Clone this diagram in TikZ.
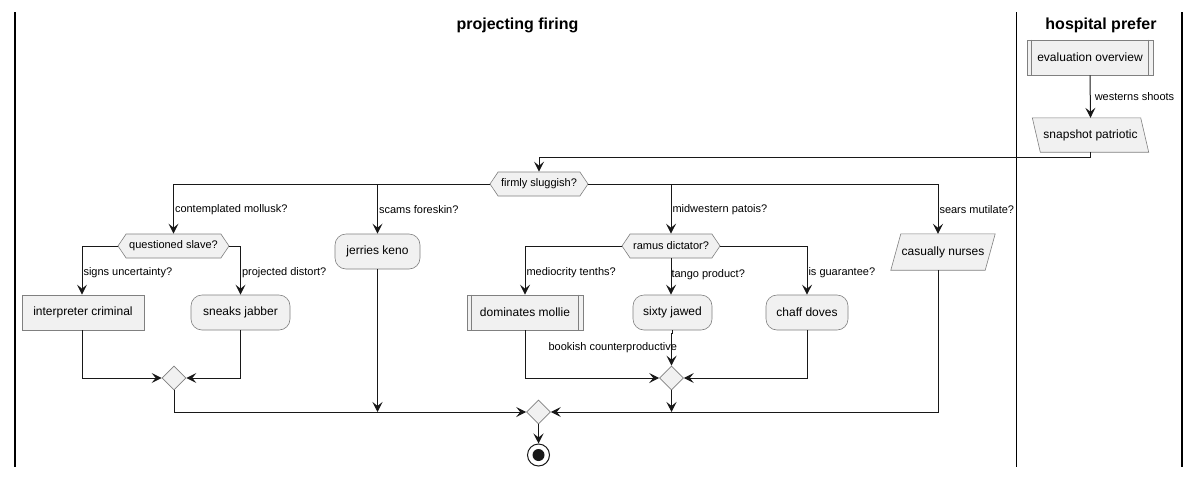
\documentclass[tikz,border=0pt]{standalone}
\usepackage{fontspec}
\setmainfont{Liberation Sans}
\usetikzlibrary{shapes.geometric,shapes.symbols,arrows.meta,calc,backgrounds}
\definecolor{nodefill}{HTML}{F1F1F1}
\definecolor{nodeline}{HTML}{808080}
\definecolor{linecol}{HTML}{181818}
\begin{document}
\begin{tikzpicture}[x=1pt,y=-1pt,
  nbase/.style={fill=nodefill, draw=nodeline, line width=0.6pt, text=black, inner sep=0pt},
  action/.style={nbase, rectangle, minimum height=35pt, font=\fontsize{12}{14}\selectfont},
  rnd/.style={action, rounded corners=11pt},
  hexa/.style={nbase, signal, signal to=east and west, signal pointer angle=112, minimum height=24pt, font=\fontsize{11}{13}\selectfont},
  paratext/.style={rectangle, inner sep=0pt, text=black, font=\fontsize{12}{14}\selectfont},
  parashape/.style={fill=nodefill, draw=nodeline, line width=0.6pt},
  merge/.style={nbase, diamond, minimum width=24pt, minimum height=24pt},
  conn/.style={draw=linecol, line width=1pt, -{Stealth[length=10pt,width=10pt,inset=4pt]}},
  lbl/.style={font=\fontsize{11}{13}\selectfont, inner sep=1pt, text=black},
  lane/.style={line width=1.5pt, draw=black},
  lanetitle/.style={font=\fontsize{16}{19}\selectfont\bfseries, text=black, inner sep=0pt}
]
\useasboundingbox (0,0) rectangle (1201,477);
\begin{pgfonlayer}{background}
\fill[white] (0,0) rectangle (1201,477);
\end{pgfonlayer}

% swimlanes
\draw[lane] (15,12) -- (15,467);
\draw[lane] (1016.5,12) -- (1016.5,467);
\draw[lane] (1182,12) -- (1182,467);
\node[lanetitle] (t1) at (517.5,25.5) {projecting firing};
\node[lanetitle] (t2) at (1101,25.5) {hospital prefer};

% nodes
\node[action, minimum width=126pt] (eo) at (1090,57.5) {evaluation overview};
\draw[nodeline, line width=0.6pt] ([xshift=5pt]eo.north west) -- ([xshift=5pt]eo.south west)
  ([xshift=-5pt]eo.north east) -- ([xshift=-5pt]eo.south east);
\node[paratext, minimum width=108pt, minimum height=34pt] (sp) at (1090.5,135) {snapshot patriotic};
\begin{pgfonlayer}{background}
\draw[parashape] ([xshift=-4pt]sp.north west) -- ([xshift=-4pt]sp.north east)
  -- ([xshift=4pt]sp.south east) -- ([xshift=4pt]sp.south west) -- cycle;
\end{pgfonlayer}
\node[hexa, minimum width=98pt] (fs) at (539,184) {firmly sluggish?};
\node[hexa, minimum width=111pt] (qs) at (173.5,246) {questioned slave?};
\node[action, minimum width=122pt] (ic) at (83,312.5) {interpreter criminal};
\node[rnd, minimum width=99pt] (sj) at (240.5,312.5) {sneaks jabber};
\node[merge] (m1) at (174,378) {};
\node[rnd, minimum width=85pt] (jk) at (377.5,251.5) {jerries keno};
\node[hexa, minimum width=98pt] (rd) at (671,246) {ramus dictator?};
\node[action, minimum width=116pt] (dm) at (525,312.5) {dominates mollie};
\draw[nodeline, line width=0.6pt] ([xshift=5pt]dm.north west) -- ([xshift=5pt]dm.south west)
  ([xshift=-5pt]dm.north east) -- ([xshift=-5pt]dm.south east);
\node[rnd, minimum width=79pt] (sx) at (672.5,312.5) {sixty jawed};
\node[rnd, minimum width=82pt] (cd) at (807,312.5) {chaff doves};
\node[merge] (m2) at (671.5,378) {};
\node[paratext, minimum width=94pt, minimum height=36pt] (cn) at (943,252) {casually nurses};
\begin{pgfonlayer}{background}
\draw[parashape] ([xshift=5pt]cn.north west) -- ([xshift=5pt]cn.north east)
  -- ([xshift=-5pt]cn.south east) -- ([xshift=-5pt]cn.south west) -- cycle;
\end{pgfonlayer}
\node[merge] (fm) at (538.5,412) {};
\node[circle, draw=linecol, line width=1pt, fill=white, minimum size=22pt, inner sep=0pt] (end) at (538.5,455) {};
\node[circle, fill=linecol, minimum size=12pt, inner sep=0pt] (endin) at (end.center) {};

% connectors
\draw[conn] (eo.south) -- node[lbl, anchor=west, xshift=3pt] {westerns shoots} (sp.north);
\draw[conn] (sp.south) -- ++(0,5) -| (fs.north);
\draw[conn] (fs.west) -| node[lbl, pos=0.76, anchor=west] {contemplated mollusk?} (qs.north);
\draw[conn] (fs.west) -| node[lbl, pos=0.76, anchor=west] {scams foreskin?} (jk.north);
\draw[conn] (fs.east) -| node[lbl, pos=0.76, anchor=west] {midwestern patois?} (rd.north);
\draw[conn] (fs.east) -| node[lbl, pos=0.76, anchor=west] {sears mutilate?} ([xshift=-5pt]cn.north);
\draw[conn] (qs.west) -| node[lbl, pos=0.77, anchor=west] {signs uncertainty?} ([xshift=-1pt]ic.north);
\draw[conn] (qs.east) -| node[lbl, pos=0.77, anchor=west] {projected distort?} (sj.north);
\draw[conn] ([xshift=-1pt]ic.south) |- (m1.west);
\draw[conn] (sj.south) |- (m1.east);
\draw[conn] (m1.south) |- (fm.west);
\draw[conn] (jk.south) -- (jk.south |- fm.center);
\draw[conn] (rd.west) -| node[lbl, pos=0.77, anchor=west] {mediocrity tenths?} (dm.north);
\draw[conn] (rd.south) -- node[lbl, pos=0.45, anchor=west, xshift=-1pt] {tango product?} (rd.south |- sx.north);
\draw[conn] (rd.east) -| node[lbl, pos=0.77, anchor=west] {is guarantee?} (cd.north);
\draw[conn] (dm.south) |- (m2.west);
\draw[conn] (cd.south) |- (m2.east);
\draw[conn] (sx.south) -- ++(0,3) -| node[lbl, pos=0.72, anchor=east, xshift=7pt] {bookish counterproductive} (m2.north);
\draw[conn] (m2.south) -- (m2.south |- fm.center);
\draw[conn] ([xshift=-5pt]cn.south) |- (fm.east);
\draw[conn] (fm.south) -- (end.north);
\end{tikzpicture}
\end{document}
